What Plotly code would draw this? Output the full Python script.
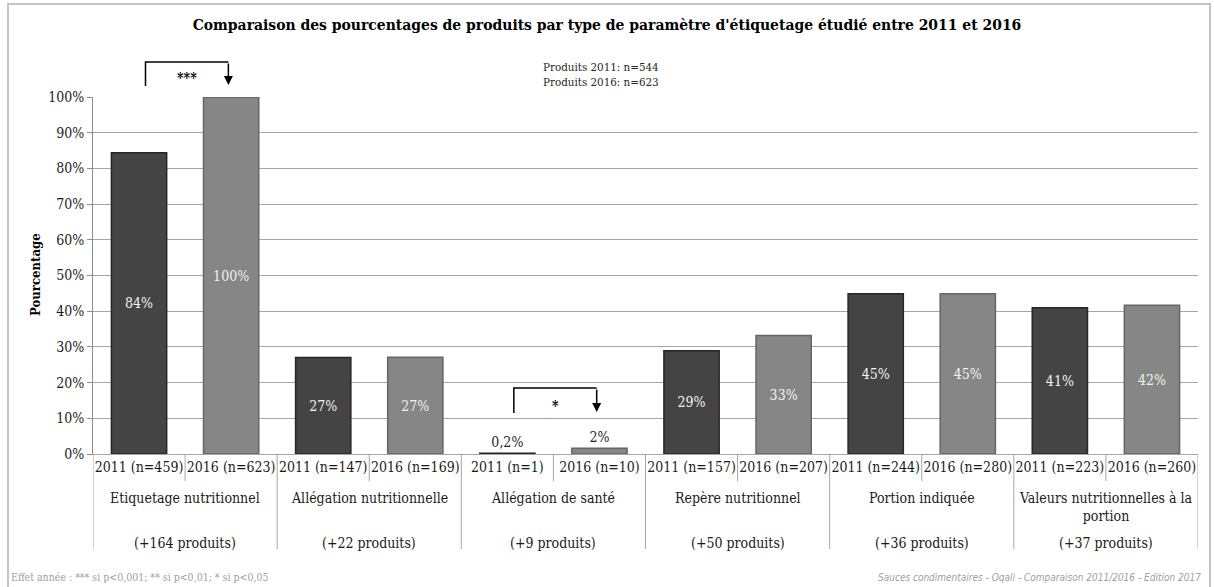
import plotly.graph_objects as go

# ---------------- data ----------------
groups = ["Etiquetage nutritionnel", "Allégation nutritionnelle", "Allégation de santé",
          "Repère nutritionnel", "Portion indiquée", "Valeurs nutritionnelles à la<br>portion"]
gains = ["(+164 produits)", "(+22 produits)", "(+9 produits)",
         "(+50 produits)", "(+36 produits)", "(+37 produits)"]
n_2011 = [459, 147, 1, 157, 244, 223]
n_2016 = [623, 169, 10, 207, 280, 260]
pct_2011 = [84.4, 27.0, 0.2, 28.9, 44.9, 41.0]
pct_2016 = [100.0, 27.1, 1.6, 33.2, 44.9, 41.7]
labels_2011 = ["84%", "27%", "0,2%", "29%", "45%", "41%"]
labels_2016 = ["100%", "27%", "2%", "33%", "45%", "42%"]
significance = ["***", "", "*", "", "", ""]
totals = ["Produits 2011: n=544", "Produits 2016: n=623"]
y_ticks = [0, 10, 20, 30, 40, 50, 60, 70, 80, 90, 100]

cat_2011 = [f"2011 (n={n})" for n in n_2011]
cat_2016 = [f"2016 (n={n})" for n in n_2016]
categories = [c for pair in zip(cat_2011, cat_2016) for c in pair]

FONT = "DejaVu Serif Condensed"
W, H = 1214, 587
L, R, T, B = 93, 16, 97, 133
PH = H - T - B  # plot height in px
PW = W - L - R


def py(pix):
    """pixel row -> paper y"""
    return (H - B - pix) / PH


def px(pix):
    return (pix - L) / PW


def text_pos(vals):
    return ["inside" if v >= 5 else "outside" for v in vals]


fig = go.Figure()
fig.add_trace(go.Bar(
    x=cat_2011, y=pct_2011, name="2011", text=labels_2011,
    textposition=text_pos(pct_2011), insidetextanchor="middle",
    insidetextfont=dict(color="#f2f2f2", size=14, family=FONT),
    outsidetextfont=dict(color="#262626", size=14, family=FONT),
    marker=dict(color="#444444", line=dict(color="#262626", width=1.5)),
    cliponaxis=False, hoverinfo="skip"))
fig.add_trace(go.Bar(
    x=cat_2016, y=pct_2016, name="2016", text=labels_2016,
    textposition=text_pos(pct_2016), insidetextanchor="middle",
    insidetextfont=dict(color="#f2f2f2", size=14, family=FONT),
    outsidetextfont=dict(color="#262626", size=14, family=FONT),
    marker=dict(color="#868686", line=dict(color="#666666", width=1.5)),
    cliponaxis=False, hoverinfo="skip"))

shapes = []
annotations = []

# outer chart frame
shapes.append(dict(type="rect", xref="paper", yref="paper",
                   x0=px(8), x1=px(1210), y0=py(600), y1=py(4),
                   line=dict(color="#c4c4c4", width=2), layer="below"))

# category dividers below axis
n_cat = len(categories)
for k in range(n_cat + 1):
    xb = k - 0.5
    is_group = (k % 2 == 0)
    shapes.append(dict(type="line", xref="x", yref="paper", x0=xb, x1=xb,
                       y0=0, y1=py(549) if is_group else py(481),
                       line=dict(color="#a6a6a6", width=1)))

# group labels
for g, (name, gain) in enumerate(zip(groups, gains)):
    xc = 2 * g + 0.5
    annotations.append(dict(xref="x", yref="paper", x=xc, y=py(488), yanchor="top",
                            text=name, showarrow=False,
                            font=dict(family=FONT, size=14, color="#1a1a1a")))
    annotations.append(dict(xref="x", yref="paper", x=xc, y=py(543), yanchor="middle",
                            text=gain, showarrow=False,
                            font=dict(family=FONT, size=14, color="#1a1a1a")))

# significance brackets
bracket_px = {0: dict(top=62, left_bot=86, tip=85, star=78),
              2: dict(top=388, left_bot=413, tip=412, star=406)}
for g, sig in enumerate(significance):
    if not sig:
        continue
    b = bracket_px[g]
    xl = 2 * g + 0.07
    xr = 2 * g + 1 - 0.03
    shapes.append(dict(type="path", xref="x", yref="paper",
                       path=f"M {xl} {py(b['left_bot'])} L {xl} {py(b['top'])} L {xr} {py(b['top'])}",
                       line=dict(color="#000000", width=1.5)))
    annotations.append(dict(xref="x", yref="paper", x=xr, y=py(b['tip']),
                            ax=0, ay=-(b['tip'] - b['top']), text="", showarrow=True,
                            arrowhead=2, arrowsize=1.2, arrowwidth=1.5, arrowcolor="#000000",
                            standoff=0))
    annotations.append(dict(xref="x", yref="paper", x=(xl + xr) / 2, y=py(b['star']),
                            yanchor="middle", xanchor="center",
                            text=f"<b>{sig}</b>", showarrow=False,
                            font=dict(family=FONT, size=14, color="#000000")))

# product totals
annotations.append(dict(xref="paper", yref="paper", x=px(541), y=py(74),
                        xanchor="left", yanchor="middle", align="left",
                        text="<br>".join(totals), showarrow=False,
                        font=dict(family=FONT, size=11.5, color="#262626")))

# y-axis title
annotations.append(dict(xref="paper", yref="paper", x=px(35), y=py(275), textangle=-90,
                        xanchor="center", yanchor="middle",
                        text="<b>Pourcentage</b>", showarrow=False,
                        font=dict(family=FONT, size=13, color="#000000")))

# footers
annotations.append(dict(xref="paper", yref="paper", x=px(9), y=py(577),
                        xanchor="left", yanchor="middle",
                        text="Effet année : *** si p<0,001; ** si p<0,01; * si p<0,05",
                        showarrow=False, font=dict(family=FONT, size=10.5, color="#a0a0a0")))
annotations.append(dict(xref="paper", yref="paper", x=px(1203), y=py(577),
                        xanchor="right", yanchor="middle",
                        text="<i>Sauces condimentaires - Oqali - Comparaison 2011/2016 - Edition 2017</i>",
                        showarrow=False,
                        font=dict(family="DejaVu Sans Condensed", size=10, color="#a0a0a0")))

fig.update_layout(
    width=W, height=H,
    margin=dict(l=L, r=R, t=T, b=B, autoexpand=False),
    paper_bgcolor="white", plot_bgcolor="white",
    barmode="relative", bargap=0.4, showlegend=False,
    title=dict(text="<b>Comparaison des pourcentages de produits par type de paramètre d'étiquetage étudié entre 2011 et 2016</b>",
               x=0.5, xanchor="center", y=1 - 25 / H, yanchor="middle",
               font=dict(family=FONT, size=15.5, color="#000000")),
    font=dict(family=FONT, size=14, color="#1a1a1a"),
    shapes=shapes, annotations=annotations,
)
fig.update_xaxes(type="category", categoryorder="array", categoryarray=categories,
                 range=[-0.5, n_cat - 0.5], showline=True, linecolor="#a6a6a6",
                 linewidth=1, ticks="", showgrid=False, zeroline=False,
                 tickfont=dict(family=FONT, size=14, color="#1a1a1a"))
fig.update_yaxes(range=[0, 100], tickvals=y_ticks, ticktext=[f"{v}%" for v in y_ticks],
                 showgrid=True, gridcolor="#a6a6a6", gridwidth=1, zeroline=False,
                 showline=True, linecolor="#8c8c8c", linewidth=1,
                 ticks="outside", ticklen=5, tickcolor="#8c8c8c",
                 tickfont=dict(family=FONT, size=14, color="#1a1a1a"))

fig.write_html("out.html", config={"displayModeBar": False},
               post_script="document.body.style.margin='0';document.body.style.overflow='hidden';")
